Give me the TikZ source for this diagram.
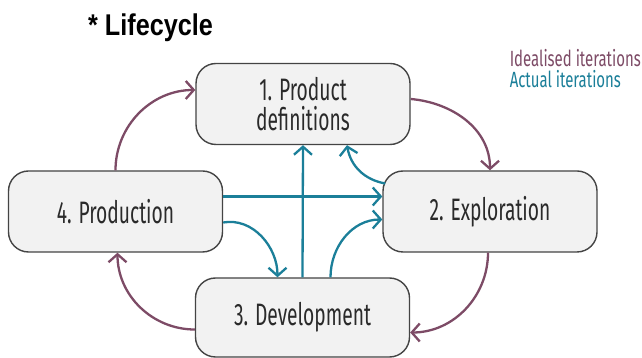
\documentclass[tikz,border=0pt]{standalone}
\usepackage{fontspec}
\usetikzlibrary{arrows.meta}
\newfontfamily\boxfont[FakeStretch=0.62]{Fira Sans}
\newfontfamily\legfont[FakeStretch=0.68]{Fira Sans}
\newfontfamily\titlefont[FakeStretch=0.84]{Liberation Sans}
\definecolor{ideal}{HTML}{7D4B66}
\definecolor{actual}{HTML}{1B7F99}
\definecolor{boxfill}{HTML}{F2F2F2}
\definecolor{boxline}{HTML}{444444}
\definecolor{boxtext}{HTML}{2A2A2A}
\tikzset{
  stage/.style={draw=boxline, line width=1.4pt, fill=boxfill, rounded corners=20pt,
    minimum width=214pt, minimum height=81pt, inner sep=0pt, align=center,
    text=boxtext, font=\boxfont\fontsize{31}{30}\selectfont},
  tip/.style={-{Straight Barb[length=8pt,width=18pt]}},
  idealarrow/.style={tip, draw=ideal, line width=2.3pt},
  actualarrow/.style={tip, draw=actual, line width=2.3pt},
}
\begin{document}
\begin{tikzpicture}[x=1pt,y=1pt]
\useasboundingbox (0,0) rectangle (642,358);
\fill[white] (0,0) rectangle (642,358);
% title and legend
\node[font=\titlefont\bfseries\fontsize{30}{34}\selectfont, anchor=west, inner sep=0pt] (title) at (88,330) {* Lifecycle};
\node[font=\legfont\fontsize{22}{25}\selectfont, text=ideal, anchor=east, inner sep=0pt] (leg1) at (641,300) {Idealised iterations};
\node[font=\legfont\fontsize{22}{25}\selectfont, text=actual, anchor=west, inner sep=0pt] (leg2) at (leg1.west |- 0,279) {Actual iterations};
% stages
\node[stage] (n1) at (303,254) {1. Product\\definitions};
\node[stage] (n4) at (115.5,146.5) {4. Production};
\node[stage] (n2) at (490,146.5) {2. Exploration};
\node[stage, minimum height=79pt] (n3) at (302.5,40.5) {3. Development};
% idealised iterations
\draw[idealarrow] (n4.north) to[out=90,in=180] ([yshift=14pt]n1.west);
\draw[idealarrow] ([yshift=5pt]n1.east) to[out=-5,in=90] (n2.north);
\draw[idealarrow] ([xshift=-2pt]n2.south) to[out=-90,in=0] ([yshift=-15pt]n3.east);
\draw[idealarrow] ([yshift=-12pt]n3.west) to[out=180,in=-90] ([xshift=2pt]n4.south);
% actual iterations
\draw[actualarrow] ([yshift=15pt]n4.east) -- ([yshift=15pt]n2.west);
\draw[actualarrow] (n3.north) -- (n1.south);
\draw[actualarrow] ([xshift=3pt,yshift=28pt]n2.west) to[out=170,in=-80] ([xshift=44pt]n1.south);
\draw[actualarrow] ([yshift=-11pt]n4.east) to[out=10,in=90] ([xshift=-25pt]n3.north);
\draw[actualarrow] ([xshift=28pt]n3.north) to[out=90,in=180] ([yshift=-8pt]n2.west);
\end{tikzpicture}
\end{document}
